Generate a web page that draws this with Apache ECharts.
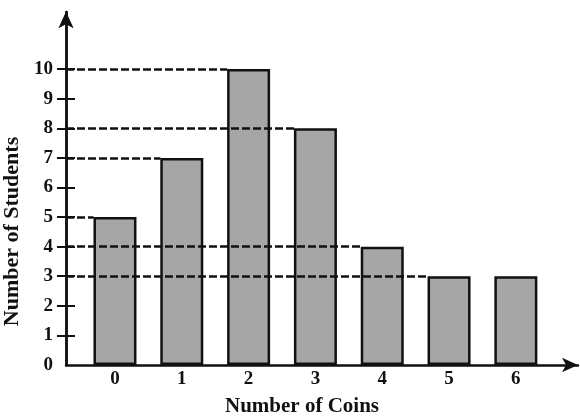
<!DOCTYPE html>
<html>
<head>
<meta charset="utf-8">
<script src="https://cdn.jsdelivr.net/npm/echarts@6/dist/echarts.min.js"></script>
<style>
  html, body { margin: 0; padding: 0; background: #fff; }
  #chart { width: 580px; height: 416px; }
</style>
</head>
<body>
<div id="chart"></div>
<script>
const coins = [0, 1, 2, 3, 4, 5, 6];
const students = [5, 7, 10, 8, 4, 3, 3];
const yTickLabels = [0, 1, 2, 3, 4, 5, 6, 7, 8, 9, 10];
const yTickMarks = [1, 2, 3, 4, 5, 6, 7, 8, 9, 10];

const xMin = -0.733;
const xMax = 6.93;
const yMax = 11.93;
const barHalf = 0.32; // half bar width in data units

const font = '"Liberation Serif", "DejaVu Serif", serif';
const ink = '#111';

// dashed guide from the y axis to the left edge of the first bar with each value
const seen = new Set();
const guides = [];
coins.forEach((c, i) => {
  const v = students[i];
  if (seen.has(v)) return;
  seen.add(v);
  guides.push([
    { coord: [xMin, v] },
    { coord: [c - barHalf, v] },
  ]);
});

const chart = echarts.init(document.getElementById('chart'));

const yBase = {
  type: 'value',
  min: 0,
  max: yMax,
  position: 'left',
  splitLine: { show: false },
  axisLine: {
    show: true,
    onZero: false,
    lineStyle: { color: ink, width: 2.5 },
    symbol: ['none', 'arrow'],
    symbolSize: [11, 16],
  },
};

chart.setOption({
  animation: false,
  grid: { left: 66, right: 2, top: 12, bottom: 51, outerBoundsMode: 'none' },
  xAxis: {
    type: 'value',
    min: xMin,
    max: xMax,
    splitLine: { show: false },
    axisLine: {
      onZero: false,
      lineStyle: { color: ink, width: 2.5 },
      symbol: ['none', 'arrow'],
      symbolSize: [11, 16],
    },
    axisTick: { show: false },
    axisLabel: {
      customValues: coins,
      margin: 5,
      fontFamily: font,
      fontWeight: 'bold',
      fontSize: 19,
      color: ink,
    },
    name: 'Number of Coins',
    nameLocation: 'middle',
    nameGap: 31,
    nameTextStyle: {
      fontFamily: font, fontWeight: 'bold', fontSize: 21, color: ink,
      padding: [0, 40, 0, 0],
    },
  },
  yAxis: [
    Object.assign({}, yBase, {
      axisTick: {
        show: true,
        customValues: yTickMarks,
        length: 9,
        lineStyle: { color: ink, width: 2 },
      },
      axisLabel: {
        customValues: yTickLabels,
        margin: 13,
        fontFamily: font,
        fontWeight: 'bold',
        fontSize: 19,
        color: ink,
      },
      name: 'Number of Students',
      nameLocation: 'middle',
      nameGap: 38,
      nameTextStyle: {
        fontFamily: font, fontWeight: 'bold', fontSize: 22, color: ink,
        padding: [0, 86, 0, 0],
      },
    }),
    Object.assign({}, yBase, {
      axisTick: {
        show: true,
        inside: true,
        customValues: yTickMarks,
        length: 9,
        lineStyle: { color: ink, width: 2 },
      },
      axisLabel: { show: false },
    }),
  ],
  series: [
    {
      type: 'bar',
      data: coins.map((c, i) => [c, students[i]]),
      barWidth: 43,
      itemStyle: { color: '#a6a6a6', borderColor: ink, borderWidth: 2.5 },
      z: 2,
      markLine: {
        silent: true,
        symbol: ['none', 'none'],
        label: { show: false },
        lineStyle: { color: ink, width: 2.5, type: [8, 3], opacity: 1 },
        emphasis: { disabled: true },
        z: 5,
        data: guides,
      },
    },
  ],
});
</script>
</body>
</html>
